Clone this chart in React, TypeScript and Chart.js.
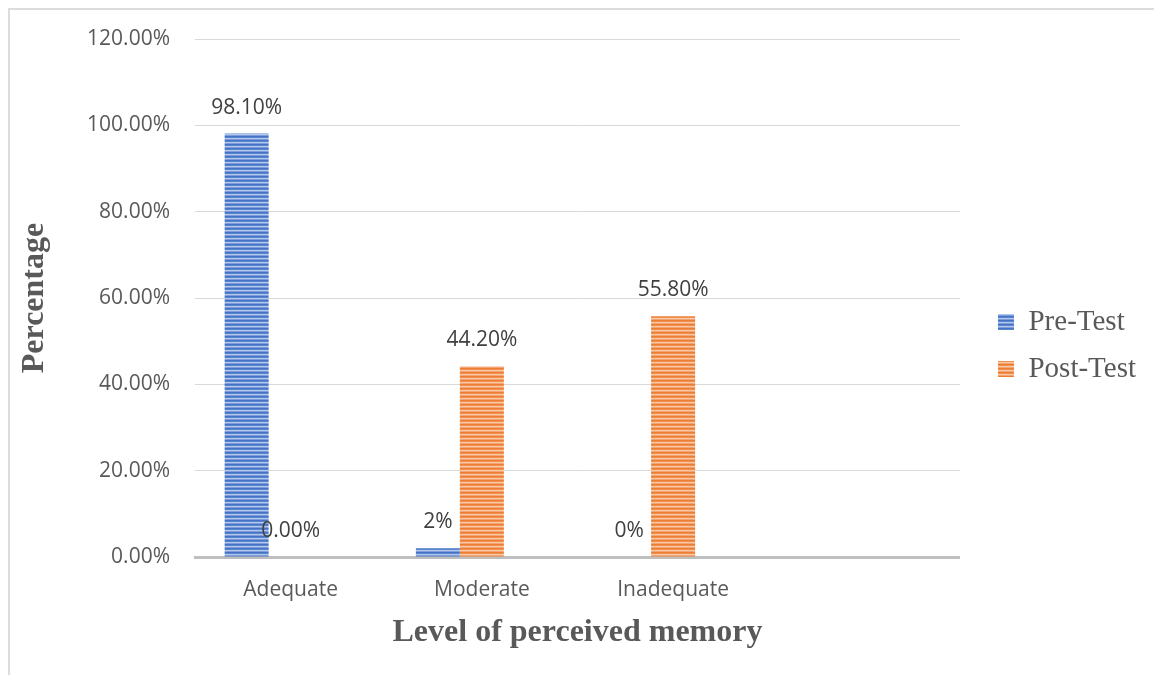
import React, { useEffect, useRef } from "react";
import { Chart, registerables } from "chart.js";

Chart.register(...registerables);

const categories = ["Adequate", "Moderate", "Inadequate", ""];
const preTest = [98.1, 2, 0, null];
const postTest = [0, 44.2, 55.8, null];
const spacerSeries = [null, null, null, null];
const preLabels = ["98.10%", "2%", "0%", ""];
const postLabels = ["0.00%", "44.20%", "55.80%", ""];
const seriesNames = ["Pre-Test", "Post-Test"];
const yMin = 0;
const yMax = 120;
const yStep = 20;

function makeStripes(rows: string[]) {
  const c = document.createElement("canvas");
  c.width = 4;
  c.height = rows.length;
  const g = c.getContext("2d")!;
  rows.forEach((col, i) => {
    g.fillStyle = col;
    g.fillRect(0, i, 4, 1);
  });
  return g.createPattern(c, "repeat")!;
}

const dataLabelPlugin = {
  id: "dataLabels",
  afterDatasetsDraw(chart: any) {
    const ctx = chart.ctx;
    const all = [preLabels, postLabels];
    ctx.save();
    ctx.font = "21px 'Open Sans'";
    ctx.fillStyle = "#404040";
    ctx.textAlign = "center";
    ctx.textBaseline = "middle";
    all.forEach((labels, di) => {
      const meta = chart.getDatasetMeta(di);
      labels.forEach((t, i) => {
        if (!t) return;
        const el = meta.data[i];
        if (!el) return;
        ctx.fillText(t, el.x, el.y - 26);
      });
    });
    ctx.restore();
  },
};

export default function App() {
  const ref = useRef<HTMLCanvasElement>(null);
  useEffect(() => {
    const blue = makeStripes(["#4472c4", "#5a85cf", "#b3c6eb", "#7e9dd9"]);
    const orange = makeStripes(["#ed7d31", "#f08f4f", "#f9caa9", "#f3a472"]);
    const chart = new Chart(ref.current!, {
      type: "bar",
      data: {
        labels: categories,
        datasets: [
          { label: seriesNames[0], data: preTest as any, backgroundColor: blue as any, borderWidth: 0 },
          { label: seriesNames[1], data: postTest as any, backgroundColor: orange as any, borderWidth: 0 },
          { label: "", data: spacerSeries as any, backgroundColor: "rgba(0,0,0,0)", borderWidth: 0 },
        ],
      },
      options: {
        animation: false,
        responsive: true,
        maintainAspectRatio: false,
        layout: { padding: { left: 0, top: 39, right: 8, bottom: 23 } },
        datasets: { bar: { categoryPercentage: 0.69, barPercentage: 1 } },
        plugins: {
          tooltip: { enabled: false },
          legend: {
            position: "right",
            labels: {
              filter: (item: any) => item.datasetIndex < 2,
              boxWidth: 16,
              boxHeight: 16,
              padding: 18,
              color: "#595959",
              font: { family: "'Liberation Serif'", size: 29 },
            },
          },
        },
        scales: {
          x: {
            grid: { display: false, drawTicks: false },
            border: { display: true, color: "#bfbfbf", width: 3 },
            ticks: { color: "#595959", font: { family: "'Open Sans'", size: 21 }, padding: 20, maxRotation: 0 },
            title: {
              display: true,
              text: "Level of perceived memory",
              color: "#595959",
              font: { family: "'Liberation Serif'", size: 32, weight: "bold" },
              padding: { top: 0, bottom: 0 },
            },
            afterFit: (s: any) => {
              s.height = 95;
            },
          },
          y: {
            min: yMin,
            max: yMax,
            grid: { color: "#d9d9d9", lineWidth: 1, drawTicks: false },
            border: { display: false },
            ticks: {
              stepSize: yStep,
              color: "#595959",
              font: { family: "'Open Sans'", size: 21 },
              padding: 25,
              callback: (v: any) => Number(v).toFixed(2) + "%",
            },
            title: {
              display: true,
              text: "Percentage",
              color: "#595959",
              font: { family: "'Liberation Serif'", size: 32, weight: "bold" },
              padding: { top: 16, bottom: 0 },
            },
            afterFit: (s: any) => {
              s.width = 195;
            },
          },
          yRight: {
            position: "right",
            display: true,
            grid: { display: false, drawTicks: false },
            border: { display: false },
            ticks: { display: false },
            afterFit: (s: any) => {
              s.width = 20;
            },
          },
        },
      },
      plugins: [dataLabelPlugin],
    });
    return () => chart.destroy();
  }, []);
  return (
    <div style={{ position: "absolute", left: 0, top: 0, width: 1154, height: 675, background: "#fff" }}>
      <div
        style={{
          position: "absolute",
          left: 8,
          top: 8,
          width: 1160,
          height: 680,
          borderLeft: "2px solid #dcdcdc",
          borderTop: "2px solid #dcdcdc",
          pointerEvents: "none",
        }}
      />
      <canvas ref={ref} />
    </div>
  );
}
